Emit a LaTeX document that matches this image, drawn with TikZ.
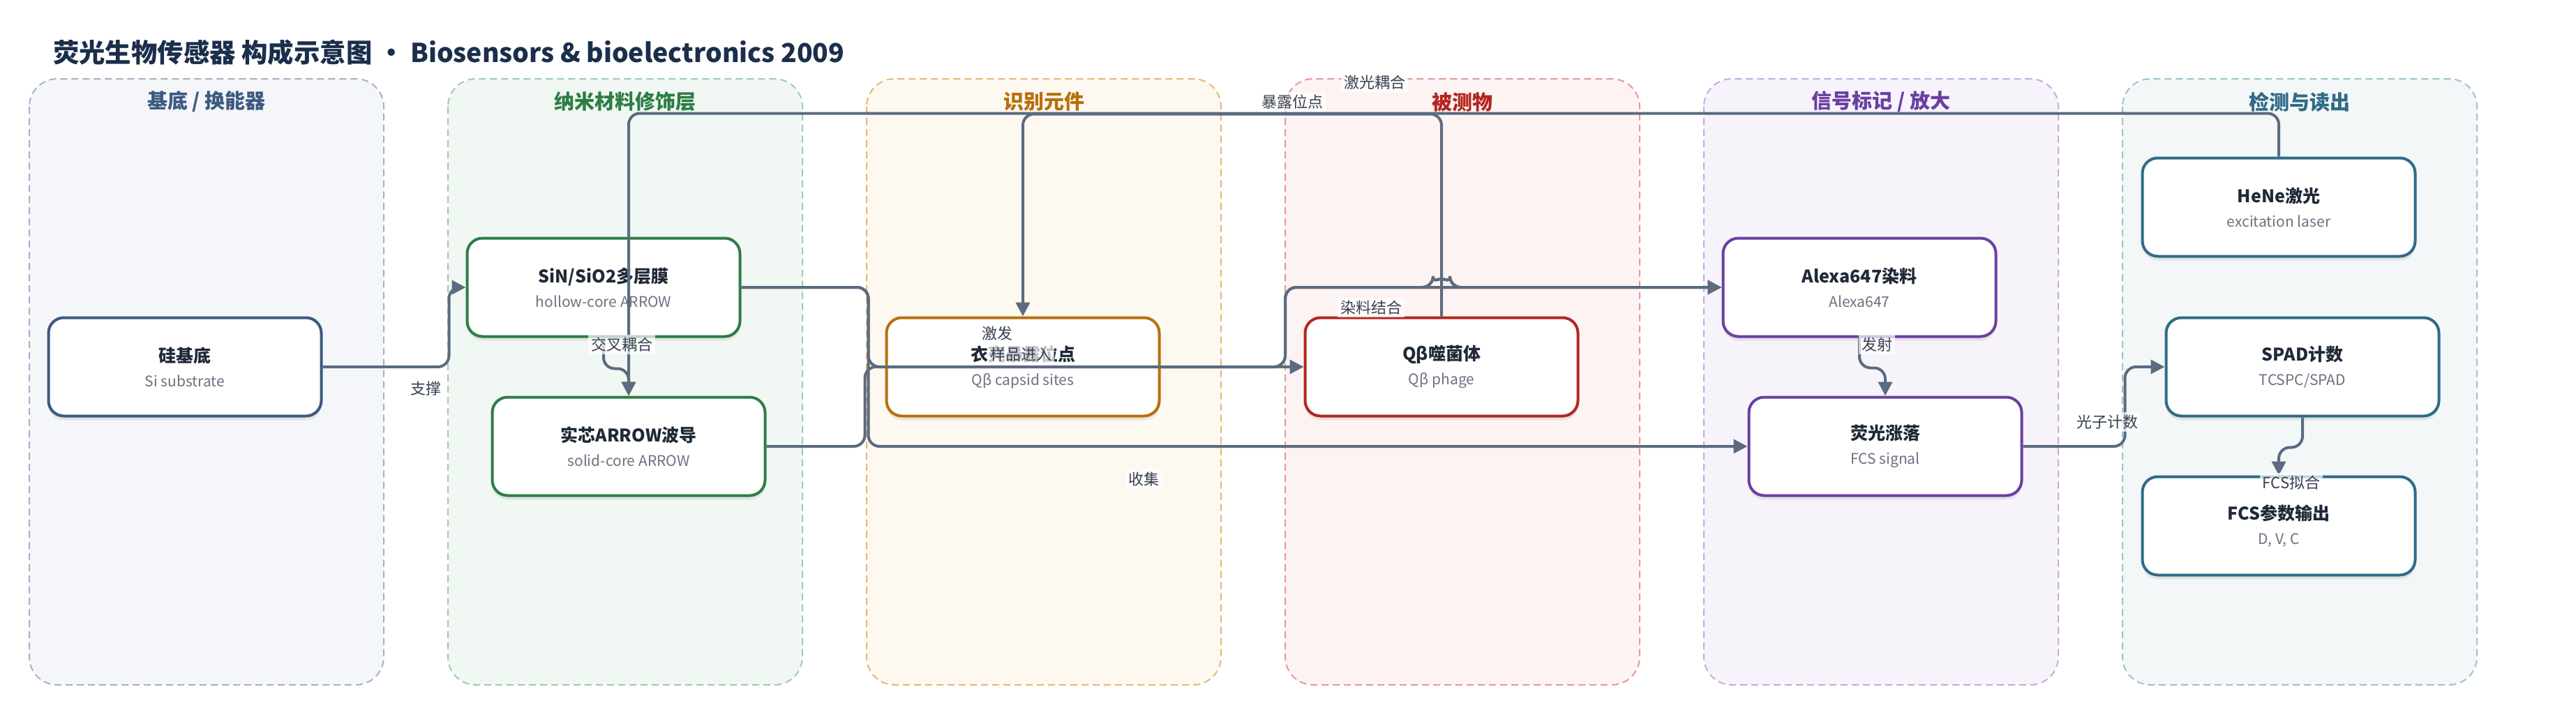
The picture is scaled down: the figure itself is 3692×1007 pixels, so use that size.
\documentclass[tikz,border=0pt]{standalone}
\usepackage{fontspec}
\setmainfont{Noto Sans CJK SC}
\usetikzlibrary{arrows.meta, shadows}

\definecolor{ink}{HTML}{1B2E4B}
\definecolor{edge}{HTML}{5B6B80}
\definecolor{lbltxt}{HTML}{374151}
\definecolor{nodetxt}{HTML}{1F2937}
\definecolor{subtxt}{HTML}{6B7280}
% lanes: border / fill / accent
\definecolor{baseB}{HTML}{A5B1C8}\definecolor{baseF}{HTML}{F4F6FA}\definecolor{baseC}{HTML}{3D5A80}
\definecolor{nanoB}{HTML}{9FCBAE}\definecolor{nanoF}{HTML}{F1F8F3}\definecolor{nanoC}{HTML}{2E7D46}
\definecolor{recoB}{HTML}{E3B877}\definecolor{recoF}{HTML}{FDF8F0}\definecolor{recoC}{HTML}{B7700C}
\definecolor{anaB}{HTML}{E39A9A}\definecolor{anaF}{HTML}{FDF3F2}\definecolor{anaC}{HTML}{B3261E}
\definecolor{sigB}{HTML}{C6AAE2}\definecolor{sigF}{HTML}{F7F3FB}\definecolor{sigC}{HTML}{6B3FA0}
\definecolor{detB}{HTML}{9CC3CE}\definecolor{detF}{HTML}{F3F7F8}\definecolor{detC}{HTML}{2F6B87}

\newcommand{\nodetext}[2]{\textbf{#1}\\{\fontsize{5.25}{8.75}\selectfont\color{subtxt}#2}}

\begin{document}
\begin{tikzpicture}[x=0.25pt, y=-0.25pt,
    lane/.style 2 args={draw=#1, fill=#2, line width=0.5pt, dash pattern=on 2.5pt off 1.5pt, rounded corners=10pt},
    head/.style={text=#1, font=\bfseries\fontsize{7.25}{8}\selectfont},
    box/.style={draw=#1, fill=white, line width=1pt, rounded corners=5.5pt,
        minimum width=97.75pt, minimum height=35.25pt, align=center, text=nodetxt,
        font=\fontsize{6.25}{8.75}\selectfont,
        drop shadow={shadow xshift=0pt, shadow yshift=-1.5pt, opacity=0.15}},
    link/.style={draw=edge, line width=1pt, rounded corners=4pt, -{Triangle[length=5pt, width=5pt]}},
    lbl/.style={fill=white, fill opacity=0.7, text opacity=1, inner sep=1pt, text=lbltxt, font=\fontsize{5.5}{6}\selectfont}
    ]
\useasboundingbox (0,0) rectangle (3692,1007);

\node[anchor=west, text=ink, font=\bfseries\fontsize{9.35}{10}\selectfont] (title) at (62,75)
    {荧光生物传感器 构成示意图 · Biosensors \& bioelectronics 2009};

% lanes
\draw[lane={baseB}{baseF}] (42,113) rectangle (550,982);
\draw[lane={nanoB}{nanoF}] (642,113) rectangle (1150,982);
\draw[lane={recoB}{recoF}] (1242,113) rectangle (1750,982);
\draw[lane={anaB}{anaF}] (1842,113) rectangle (2350,982);
\draw[lane={sigB}{sigF}] (2442,113) rectangle (2950,982);
\draw[lane={detB}{detF}] (3042,113) rectangle (3550,982);
\node[head=baseC] (h-base) at (296,146) {基底 / 换能器};
\node[head=nanoC] (h-nano) at (896,146) {纳米材料修饰层};
\node[head=recoC] (h-reco) at (1496,146) {识别元件};
\node[head=anaC] (h-ana) at (2096,146) {被测物};
\node[head=sigC] (h-sig) at (2696,146) {信号标记 / 放大};
\node[head=detC] (h-det) at (3296,146) {检测与读出};

% components
\node[box=baseC] (si) at (265,526) {\nodetext{硅基底}{Si substrate}};
\node[box=nanoC] (sin) at (865,412) {\nodetext{SiN/SiO2多层膜}{hollow-core ARROW}};
\node[box=nanoC] (solid) at (901,640) {\nodetext{实芯ARROW波导}{solid-core ARROW}};
\node[box=recoC] (capsid) at (1466,526) {\nodetext{衣壳暴露位点}{Qβ capsid sites}};
\node[box=anaC] (phage) at (2066,526) {\nodetext{Qβ噬菌体}{Qβ phage}};
\node[box=sigC] (alexa) at (2665,412) {\nodetext{Alexa647染料}{Alexa647}};
\node[box=sigC] (fcs) at (2702,640) {\nodetext{荧光涨落}{FCS signal}};
\node[box=detC] (hene) at (3266,297) {\nodetext{HeNe激光}{excitation laser}};
\node[box=detC] (spad) at (3300,526) {\nodetext{SPAD计数}{TCSPC/SPAD}};
\node[box=detC] (out) at (3266,754) {\nodetext{FCS参数输出}{D, V, C}};

% connections
\draw[link] (si.east) -- ++(181,0) |- (sin.west);
\draw[link] (sin.south) -- ++(0,44) -| (solid.north);
\draw[link] (hene.north) -- ++(0,-62) -| (solid.north);
\draw[link] (phage.north) -- ++(0,-290) -| (capsid.north);
\draw[link] (sin.east) -- ++(182,0) |- (phage.west);
\draw[link] (sin.east) -- ++(182,0) |- (fcs.west);
\draw[link] (capsid.east) -- (1842,526) |- (2052,412) -- (2054,412) arc(180:360:12) -- (2080,412) -- (alexa.west);
\draw[link] (solid.east) -- ++(141,0) |- (1842,526) |- (2052,412) -- (2054,412) arc(180:360:12) -- (2080,412) -- (alexa.west);
\draw[link] (alexa.south) -- ++(0,43) -| (fcs.north);
\draw[link] (fcs.east) -- ++(146,0) |- (spad.west);
\draw[link] (spad.south) -- ++(0,43) -| (out.north);

% labels
\node[lbl] (l-support) at (610,557) {支撑};
\node[lbl] (l-cross) at (891,494) {交叉耦合};
\node[lbl] (l-excite) at (1429,478) {激发};
\node[lbl] (l-sample) at (1463,508) {样品进入};
\node[lbl] (l-expose) at (1852,146) {暴露位点};
\node[lbl] (l-laser) at (1970,118) {激光耦合};
\node[lbl] (l-dye) at (1965,441) {染料结合};
\node[lbl] (l-collect) at (1639,687) {收集};
\node[lbl] (l-emit) at (2690,494) {发射};
\node[lbl] (l-photon) at (3020,605) {光子计数};
\node[lbl] (l-fit) at (3284,692) {FCS拟合};
\end{tikzpicture}
\end{document}
